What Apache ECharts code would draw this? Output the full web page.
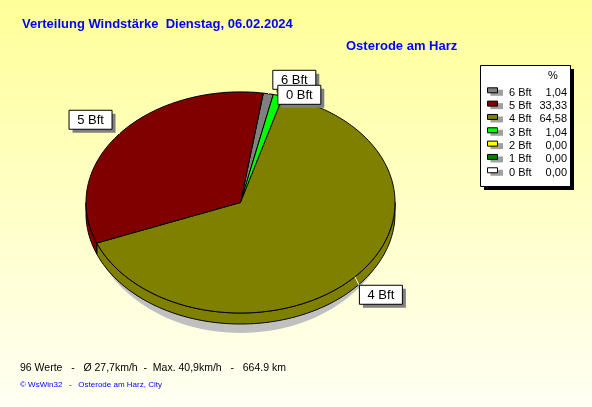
<!DOCTYPE html>
<html><head><meta charset="utf-8">
<script src="https://cdn.jsdelivr.net/npm/echarts@6/dist/echarts.min.js"></script>
<style>html,body{margin:0;padding:0;background:#fff;}#c{width:592px;height:407px;}</style>
</head><body><div id="c"></div>
<script>
// ---- data ----
const categories = ['6 Bft','5 Bft','4 Bft','3 Bft','2 Bft','1 Bft','0 Bft'];
const percents = [1.04, 33.33, 64.58, 1.04, 0.00, 0.00, 0.00];
const percentLabels = ['1,04','33,33','64,58','1,04','0,00','0,00','0,00'];
const sliceColors = ['#808080','#800000','#808000','#00ff00','#ffff00','#008000','#ffffff'];
const drawOrder = ['6 Bft','3 Bft','2 Bft','1 Bft','0 Bft','4 Bft','5 Bft'];
const labeledSlices = ['6 Bft','0 Bft','5 Bft','4 Bft'];
const titleText = 'Verteilung Windstärke  Dienstag, 06.02.2024';
const subtitleText = 'Osterode am Harz';
const footerText = '96 Werte   -   Ø 27,7km/h  -  Max. 40,9km/h   -   664.9 km';
const creditText = '© WsWin32   -   Osterode am Harz, City';

// ---- layout ----
const PIE = {cx: 240.5, cy: 202.5, rx: 154.5, ry: 110.5, depth: 11, startAngle: 81.5};
const LBL = {w: 43, h: 19, font: '13px "Liberation Sans", Arial, sans-serif'};
const FONT = '"Liberation Sans", Arial, sans-serif';

function ell(deg, dy) {
  const t = deg * Math.PI / 180;
  return [PIE.cx + PIE.rx * Math.cos(t), PIE.cy - PIE.ry * Math.sin(t) + (dy || 0)];
}
function arc(a, b, dy) { // from angle a to angle b
  const n = Math.max(1, Math.ceil(Math.abs(a - b)));
  const pts = [];
  for (let i = 0; i <= n; i++) pts.push(ell(a + (b - a) * i / n, dy));
  return pts;
}

// slice angles (clockwise)
const slices = [];
let cur = PIE.startAngle;
drawOrder.forEach(name => {
  const i = categories.indexOf(name);
  const span = percents[i] / 100 * 360;
  slices.push({name, i, a1: cur, a2: cur - span, span});
  cur -= span;
});

// label boxes
const boxes = {};
let prevBox = null;
slices.forEach(s => {
  if (labeledSlices.indexOf(s.name) < 0) return;
  const mid = (s.a1 + s.a2) / 2;
  const t = mid * Math.PI / 180;
  const p = ell(mid);
  const c = Math.cos(t), sn = Math.sin(t);
  let left = c > 0 ? p[0] + 4 : p[0] - 8 - LBL.w;
  let top = sn > 0 ? p[1] - 5 - LBL.h : p[1] + 8;
  if (prevBox && left < prevBox.left + LBL.w && left + LBL.w > prevBox.left &&
      top < prevBox.top + LBL.h && top + LBL.h > prevBox.top) {
    left = prevBox.left + 5; top = prevBox.top + 15;
  }
  const corner = [c > 0 ? left : left + LBL.w, sn > 0 ? top + LBL.h : top];
  boxes[s.name] = {left, top, p, corner};
  prevBox = boxes[s.name];
});

function renderSlice(params, api) {
  const s = slices[params.dataIndex];
  const col = sliceColors[s.i];
  const children = [];
  if (s.span > 0) {
    // front side
    for (let k = -1; k <= 1; k++) {
      const lo = Math.max(s.a2, -180 + 360 * k), hi = Math.min(s.a1, 360 * k);
      if (hi > lo) {
        const top = arc(lo, hi, 0), bot = arc(hi, lo, PIE.depth);
        children.push({type: 'polygon', z2: 1, shape: {points: top.concat(bot)},
          style: {fill: col, stroke: '#000', lineWidth: 1}});
      }
    }
    const pts = [[PIE.cx, PIE.cy]].concat(arc(s.a1, s.a2, 0));
    children.push({type: 'polygon', z2: 2, shape: {points: pts},
      style: {fill: col, stroke: '#000', lineWidth: 1}});
  }
  const b = boxes[s.name];
  if (b) {
    children.push({type: 'line', z2: 3, shape: {x1: b.p[0], y1: b.p[1], x2: b.corner[0], y2: b.corner[1]},
      style: {stroke: '#fff', lineWidth: 1}});
    children.push({type: 'rect', z2: 4, shape: {x: b.left + 4, y: b.top + 4, width: LBL.w, height: LBL.h},
      style: {fill: '#808080'}});
    children.push({type: 'rect', z2: 5, shape: {x: b.left + 0.5, y: b.top + 0.5, width: LBL.w, height: LBL.h},
      style: {fill: '#fff', stroke: '#000', lineWidth: 1}});
    children.push({type: 'text', z2: 6, style: {text: s.name, x: b.left + LBL.w / 2 + 0.5, y: b.top + LBL.h / 2 + 1,
      font: LBL.font, fill: '#000', align: 'center', verticalAlign: 'middle'}});
  }
  return {type: 'group', children};
}

// legend graphics
const LEG = {x: 480, y: 65, w: 90, h: 121, row0: 92.3, dy: 13.33};
const legendEls = [
  {type: 'rect', shape: {x: LEG.x + 4, y: LEG.y + 4, width: LEG.w, height: LEG.h}, style: {fill: '#000'}},
  {type: 'rect', shape: {x: LEG.x + 0.5, y: LEG.y + 0.5, width: LEG.w, height: LEG.h}, style: {fill: '#fff', stroke: '#000', lineWidth: 1}},
  {type: 'text', style: {text: '%', x: 553, y: 76, font: '11px ' + FONT, fill: '#000', align: 'center', verticalAlign: 'middle'}}
];
categories.forEach((name, i) => {
  const y = LEG.row0 + i * LEG.dy;
  legendEls.push({type: 'rect', shape: {x: 490.5, y: y - 2.5, width: 12.5, height: 6}, style: {fill: '#a0a0a0'}});
  legendEls.push({type: 'rect', shape: {x: 487.5, y: y - 4.5, width: 10, height: 5}, style: {fill: sliceColors[i], stroke: '#000', lineWidth: 1}});
  legendEls.push({type: 'text', style: {text: name, x: 509, y: y + 0.5, font: '11px ' + FONT, fill: '#000', align: 'left', verticalAlign: 'middle'}});
  legendEls.push({type: 'text', style: {text: percentLabels[i], x: 567, y: y + 0.5, font: '11px ' + FONT, fill: '#000', align: 'right', verticalAlign: 'middle'}});
});

const chart = echarts.init(document.getElementById('c'), null, {renderer: 'canvas'});
chart.setOption({
  animation: false,
  backgroundColor: new echarts.graphic.LinearGradient(0, 0, 0, 1, [
    {offset: 0, color: '#ffff99'}, {offset: 1, color: '#fffff4'}
  ]),
  graphic: [
    {type: 'text', left: 22, top: 18, style: {text: titleText, font: 'bold 13px ' + FONT, fill: '#0000ff'}},
    {type: 'text', left: 346, top: 40, style: {text: subtitleText, font: 'bold 13px ' + FONT, fill: '#0000ff'}},
    {type: 'text', left: 20, top: 363, style: {text: footerText, font: '10.5px ' + FONT, fill: '#000'}},
    {type: 'text', left: 20, top: 381, style: {text: creditText, font: '8px ' + FONT, fill: '#0000ff'}},
    {type: 'group', children: legendEls}
  ],
  series: [
    {type: 'custom', coordinateSystem: 'none', silent: true, z: 1,
     renderItem: function () {
       return {type: 'ellipse', shape: {cx: PIE.cx, cy: PIE.cy + 9.5, rx: 152, ry: 121}, style: {fill: '#c0c0c0'}};
     },
     data: [0]},
    {type: 'custom', coordinateSystem: 'none', silent: true, z: 2,
     renderItem: renderSlice,
     data: drawOrder.map(n => percents[categories.indexOf(n)])}
  ]
});
</script></body></html>
